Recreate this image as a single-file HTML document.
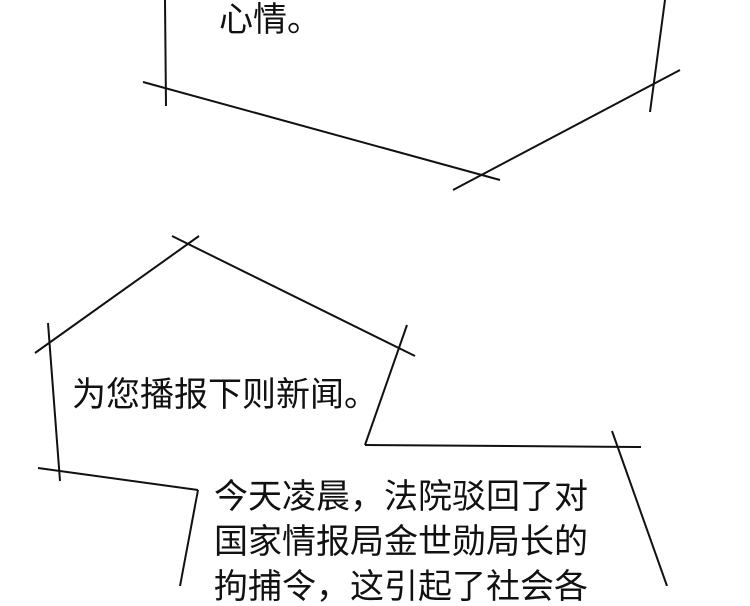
<!DOCTYPE html>
<html><head><meta charset="utf-8"><style>
html,body{margin:0;padding:0;background:#fff;}
body{width:750px;height:586px;position:relative;overflow:hidden;font-family:"Liberation Sans","Noto Sans CJK SC",sans-serif;color:#111;}
.t{position:absolute;white-space:nowrap;line-height:1;font-weight:normal;}
svg{position:absolute;left:0;top:0;}
</style></head><body>
<svg width="750" height="586" viewBox="0 0 750 586" stroke="#111" stroke-width="2" fill="none">
<line x1="165" y1="0" x2="166" y2="106"/>
<line x1="143" y1="82" x2="500" y2="180"/>
<line x1="453" y1="190" x2="680" y2="70"/>
<line x1="665" y1="0" x2="650" y2="112"/>
<line x1="172" y1="236" x2="415" y2="356"/>
<line x1="199" y1="236" x2="35" y2="353"/>
<line x1="48" y1="323" x2="60" y2="481"/>
<line x1="407" y1="325" x2="365" y2="445"/>
<line x1="365" y1="445" x2="641" y2="447"/>
<line x1="38" y1="468" x2="198" y2="490"/>
<line x1="198" y1="490" x2="180" y2="586"/>
<line x1="612" y1="431" x2="667" y2="586"/>
</svg>
<div class="t" style="left:219px;top:3px;font-size:34px;">心情。</div>
<div class="t" style="left:72px;top:378px;font-size:34px;">为您播报下则新闻。</div>
<div class="t" style="left:214px;top:480px;font-size:34px;">今天凌晨，法院驳回了对</div>
<div class="t" style="left:214px;top:525px;font-size:34px;">国家情报局金世勋局长的</div>
<div class="t" style="left:214px;top:570px;font-size:34px;">拘捕令，这引起了社会各</div>
</body></html>
